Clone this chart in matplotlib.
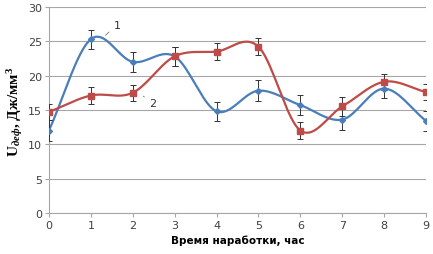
import numpy as np
import matplotlib.pyplot as plt

plt.rcParams['mathtext.fontset'] = 'custom'
plt.rcParams['mathtext.rm'] = 'Liberation Serif:bold'
plt.rcParams['mathtext.it'] = 'Liberation Serif:italic:bold'
plt.rcParams['mathtext.bf'] = 'Liberation Serif:bold'

# data
hours = [0, 1, 2, 3, 4, 5, 6, 7, 8, 9]
u_1 = [12.0, 25.3, 22.0, 22.8, 14.8, 17.8, 15.7, 13.6, 18.1, 13.4]
u_2 = [14.7, 17.1, 17.5, 22.8, 23.5, 24.2, 12.0, 15.5, 19.1, 17.6]
err_1 = [1.5, 1.4, 1.5, 1.4, 1.4, 1.5, 1.5, 1.5, 1.4, 1.5]
err_2 = [1.2, 1.2, 1.2, 1.4, 1.2, 1.2, 1.2, 1.4, 1.2, 1.2]


def smooth(x, y, n=20):
    # Excel-like smoothed line (Catmull-Rom through the points)
    x = np.asarray(x, float)
    y = np.asarray(y, float)
    px = np.concatenate([[2 * x[0] - x[1]], x, [2 * x[-1] - x[-2]]])
    py = np.concatenate([[2 * y[0] - y[1]], y, [2 * y[-1] - y[-2]]])
    xs, ys = [], []
    t = np.linspace(0, 1, n)
    for i in range(1, len(px) - 2):
        for p, out in ((px, xs), (py, ys)):
            p0, p1, p2, p3 = p[i - 1], p[i], p[i + 1], p[i + 2]
            out.extend(0.5 * ((2 * p1) + (-p0 + p2) * t
                              + (2 * p0 - 5 * p1 + 4 * p2 - p3) * t ** 2
                              + (-p0 + 3 * p1 - 3 * p2 + p3) * t ** 3))
    return xs, ys


blue = '#4A7EBB'
red = '#BE4B48'

fig = plt.figure(figsize=(4.33, 2.55), dpi=100)
ax = fig.add_axes([0.113, 0.161, 0.871, 0.808])

for y, e, c, m, ms in ((u_1, err_1, blue, 'D', 3), (u_2, err_2, red, 's', 5)):
    sx, sy = smooth(hours, y)
    ax.plot(sx, sy, color=c, lw=1.6, zorder=3)
    ax.errorbar(hours, y, yerr=e, fmt='none', ecolor='#333333', elinewidth=0.7,
                capsize=2, capthick=0.7, zorder=4)
    ax.plot(hours, y, ls='none', marker=m, ms=ms, color=c, zorder=5)

ax.annotate('1', xy=(1.3, 25.6), xytext=(1.55, 27.0), fontsize=8, color='#333333',
            arrowprops=dict(arrowstyle='-', color='#777777', lw=0.6))
ax.annotate('2', xy=(2.25, 17.0), xytext=(2.4, 15.6), fontsize=8, color='#333333',
            arrowprops=dict(arrowstyle='-', color='#777777', lw=0.6))

ax.set_xlim(0, 9)
ax.set_ylim(0, 30)
ax.set_xticks(hours)
ax.set_yticks(range(0, 31, 5))
ax.yaxis.grid(True, color='#a6a6a6', lw=0.8)
ax.set_axisbelow(True)
for s in ('top', 'right'):
    ax.spines[s].set_visible(False)
for s in ('left', 'bottom'):
    ax.spines[s].set_color('#a6a6a6')
ax.tick_params(colors='#a6a6a6', labelcolor='#404040', labelsize=8, length=3, pad=2)
ax.set_xlabel('Время наработки, час', fontsize=7.5, fontweight='bold', labelpad=3)
fig.text(0.035, 0.56, 'U$_{деф}$, Дж/мм$^3$', fontsize=11, fontweight='bold',
         family='Liberation Serif', rotation=90, ha='center', va='center')

fig.savefig('out.png', dpi=100)
